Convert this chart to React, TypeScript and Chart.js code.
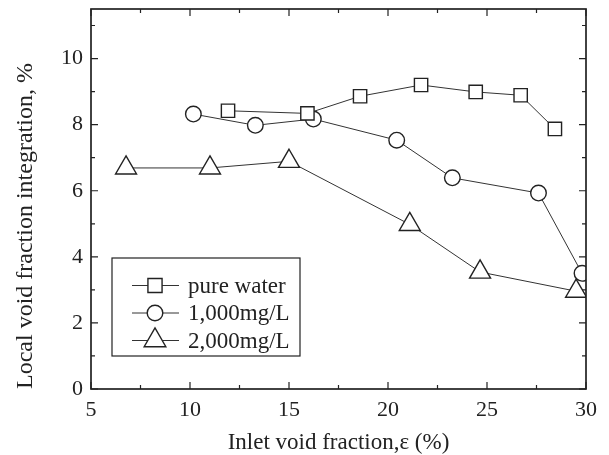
import React, { useEffect, useRef } from 'react';
import { Chart, registerables } from 'chart.js';

Chart.register(...registerables);

// ---- data ----
const seriesLabels = ['pure water', '1,000mg/L', '2,000mg/L'];

const pureWaterX = [11.92, 15.93, 18.59, 21.67, 24.43, 26.7, 28.43];
const pureWaterY = [8.42, 8.34, 8.86, 9.2, 8.99, 8.89, 7.87];

const mg1000X = [10.17, 13.3, 16.23, 20.44, 23.25, 27.6, 29.8];
const mg1000Y = [8.32, 7.98, 8.17, 7.53, 6.39, 5.93, 3.5];

const mg2000X = [6.77, 11.01, 15.0, 21.1, 24.65, 29.5];
const mg2000Y = [6.69, 6.69, 6.89, 4.98, 3.54, 2.96];

const xMajorTicks = [5, 10, 15, 20, 25, 30];
const xMinorTicks = [7.5, 12.5, 17.5, 22.5, 27.5];
const yMajorTicks = [0, 2, 4, 6, 8, 10];
const yMinorTicks = [1, 3, 5, 7, 9, 11];

const xTitle = 'Inlet void fraction,\u03b5 (%)';
const yTitle = 'Local void fraction integration, %';

const FONT = '"Liberation Serif", "Times New Roman", serif';
const INK = '#222';
const LINE = '#333';

const pointStyles = ['rect', 'circle', 'triangle'] as const;
const pointRadii = [9.4, 7.8, 12.1];

function toPoints(xs: number[], ys: number[]) {
  return xs.map((x, i) => ({ x, y: ys[i] }));
}

function drawMarker(ctx: CanvasRenderingContext2D, style: string, x: number, y: number, r: number) {
  ctx.beginPath();
  if (style === 'rect') {
    const s = r * Math.SQRT1_2;
    ctx.rect(x - s, y - s, 2 * s, 2 * s);
  } else if (style === 'circle') {
    ctx.arc(x, y, r, 0, Math.PI * 2);
  } else {
    const edge = (3 * r) / Math.sqrt(3);
    const h = (edge * Math.sqrt(3)) / 2;
    ctx.moveTo(x - edge / 2, y + h / 3);
    ctx.lineTo(x + edge / 2, y + h / 3);
    ctx.lineTo(x, y - (2 * h) / 3);
    ctx.closePath();
  }
  ctx.fillStyle = '#fff';
  ctx.fill();
  ctx.stroke();
}

const framePlugin = {
  id: 'frameAndLegend',
  afterDraw(chart: any) {
    const { ctx, chartArea: ca, scales } = chart;
    const xs = scales.x;
    const ys = scales.y;
    ctx.save();
    ctx.strokeStyle = INK;
    ctx.lineWidth = 1.2;
    const xTick = (v: number, len: number) => {
      const px = xs.getPixelForValue(v);
      ctx.beginPath();
      ctx.moveTo(px, ca.bottom);
      ctx.lineTo(px, ca.bottom - len);
      ctx.moveTo(px, ca.top);
      ctx.lineTo(px, ca.top + len);
      ctx.stroke();
    };
    const yTick = (v: number, len: number) => {
      const py = ys.getPixelForValue(v);
      ctx.beginPath();
      ctx.moveTo(ca.left, py);
      ctx.lineTo(ca.left + len, py);
      ctx.moveTo(ca.right, py);
      ctx.lineTo(ca.right - len, py);
      ctx.stroke();
    };
    xMajorTicks.forEach((v) => xTick(v, 7));
    xMinorTicks.forEach((v) => xTick(v, 4));
    yMajorTicks.forEach((v) => yTick(v, 7));
    yMinorTicks.forEach((v) => yTick(v, 4));

    ctx.lineWidth = 1.7;
    ctx.strokeRect(ca.left, ca.top, ca.right - ca.left, ca.bottom - ca.top);

    // legend
    const bx = ca.left + 21;
    const by = ca.bottom - 131;
    const bw = 188;
    const bh = 98;
    ctx.fillStyle = '#fff';
    ctx.fillRect(bx, by, bw, bh);
    ctx.lineWidth = 1.2;
    ctx.strokeStyle = INK;
    ctx.strokeRect(bx, by, bw, bh);
    const rows = [ca.bottom - 103.5, ca.bottom - 76, ca.bottom - 48.5];
    const legendRadii = [10, 7.8, 12.5];
    seriesLabels.forEach((label, i) => {
      const ry = rows[i];
      ctx.strokeStyle = LINE;
      ctx.lineWidth = 1;
      ctx.beginPath();
      ctx.moveTo(ca.left + 41, ry);
      ctx.lineTo(ca.left + 88, ry);
      ctx.stroke();
      ctx.strokeStyle = INK;
      ctx.lineWidth = 1.4;
      drawMarker(ctx, pointStyles[i], ca.left + 64, ry, legendRadii[i]);
      ctx.fillStyle = INK;
      ctx.font = `23px ${FONT}`;
      ctx.textAlign = 'left';
      ctx.textBaseline = 'middle';
      ctx.fillText(label, ca.left + 97, ry + 1);
    });
    ctx.restore();
  },
};

export default function App() {
  const canvasRef = useRef<HTMLCanvasElement | null>(null);

  useEffect(() => {
    if (!canvasRef.current) return;
    const xsAll = [pureWaterX, mg1000X, mg2000X];
    const ysAll = [pureWaterY, mg1000Y, mg2000Y];
    const chart = new Chart(canvasRef.current, {
      type: 'scatter',
      data: {
        datasets: seriesLabels.map((label, i) => ({
          label,
          data: toPoints(xsAll[i], ysAll[i]),
          showLine: true,
          borderColor: LINE,
          borderWidth: 1,
          tension: 0,
          pointStyle: pointStyles[i],
          pointRadius: pointRadii[i],
          pointHoverRadius: pointRadii[i],
          pointBorderWidth: 1.4,
          pointBorderColor: INK,
          pointBackgroundColor: '#fff',
        })),
      },
      options: {
        responsive: false,
        animation: false,
        devicePixelRatio: 1,
        events: [],
        layout: { autoPadding: false, padding: { top: 9, right: 23, left: 0, bottom: 0 } },
        plugins: {
          legend: { display: false },
          tooltip: { enabled: false },
        },
        scales: {
          x: {
            type: 'linear',
            min: 5,
            max: 30,
            afterFit: (s: any) => {
              s.height = 66;
              s.paddingLeft = 0;
              s.paddingRight = 0;
            },
            grid: { display: false, drawTicks: false },
            border: { display: false },
            ticks: {
              stepSize: 5,
              padding: 8,
              color: INK,
              includeBounds: false,
              maxRotation: 0,
              font: { family: FONT, size: 22 },
            },
            title: {
              display: true,
              text: xTitle,
              color: INK,
              font: { family: FONT, size: 23, lineHeight: 1 },
              padding: { top: 0, bottom: 0.5 },
            },
          },
          y: {
            type: 'linear',
            min: 0,
            max: 11.5,
            afterFit: (s: any) => {
              s.width = 91;
              s.paddingTop = 0;
              s.paddingBottom = 0;
            },
            grid: { display: false, drawTicks: false },
            border: { display: false },
            ticks: {
              stepSize: 2,
              padding: 8,
              color: INK,
              includeBounds: false,
              font: { family: FONT, size: 22, lineHeight: 0.5 },
            },
            title: {
              display: true,
              text: yTitle,
              align: 'start',
              color: INK,
              font: { family: FONT, size: 24, lineHeight: 1 },
              padding: { top: 14, bottom: 0 },
            },
          },
        },
      },
      plugins: [framePlugin],
    } as any);
    return () => chart.destroy();
  }, []);

  return (
    <div style={{ position: 'absolute', left: 0, top: 0, width: 609, height: 455, background: '#fff' }}>
      <canvas ref={canvasRef} width={609} height={455} style={{ display: 'block' }} />
    </div>
  );
}
